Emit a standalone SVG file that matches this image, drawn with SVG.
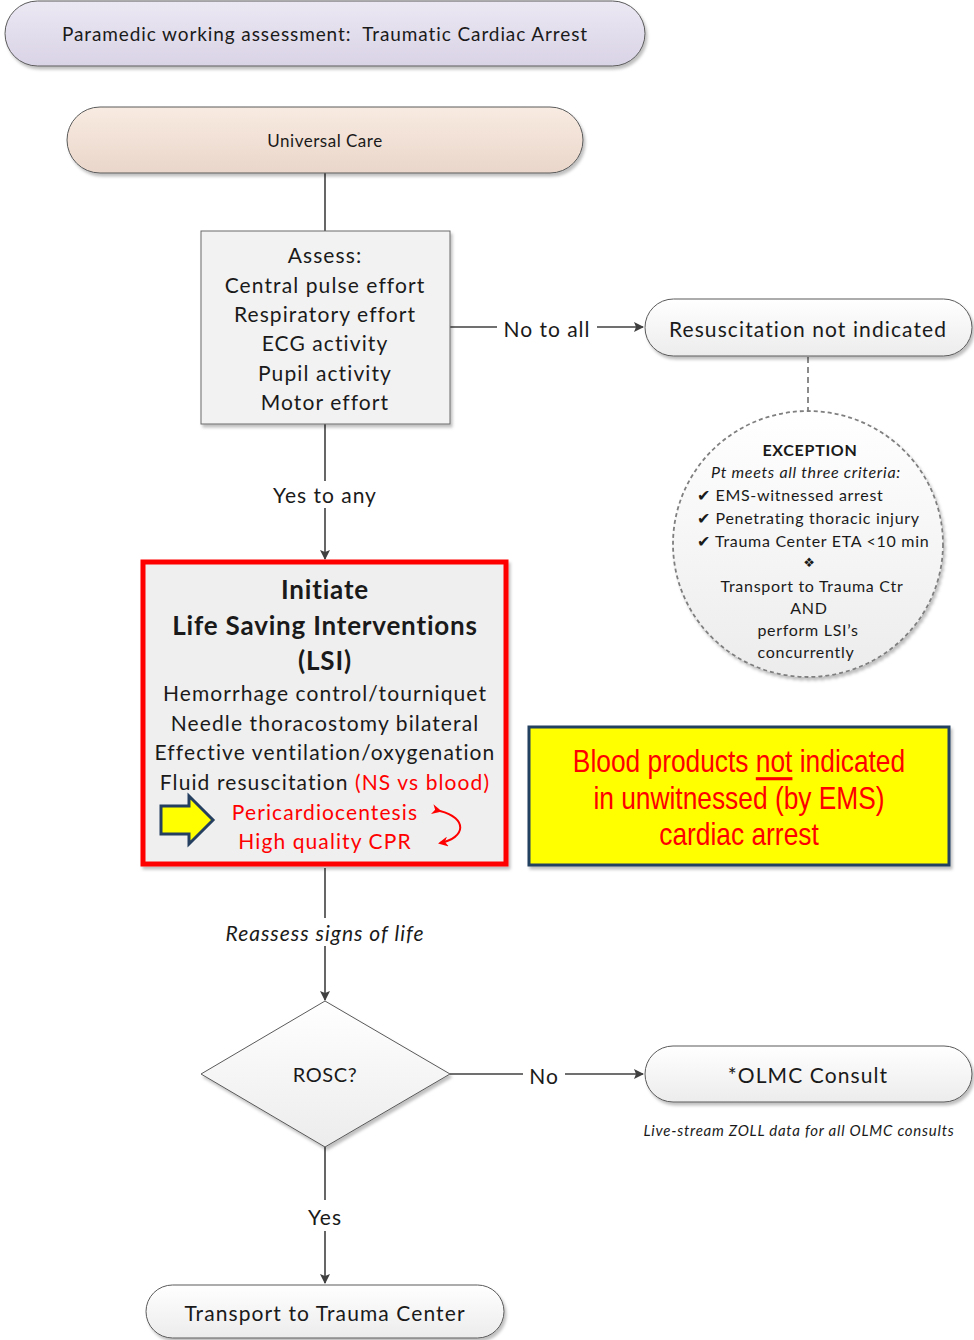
<svg xmlns="http://www.w3.org/2000/svg" width="974" height="1340" viewBox="0 0 974 1340">
<defs>
<linearGradient id="gLav" x1="0" y1="0" x2="0" y2="1"><stop offset="0" stop-color="#ece8f3"/><stop offset="1" stop-color="#d9d3e6"/></linearGradient>
<linearGradient id="gPeach" x1="0" y1="0" x2="0" y2="1"><stop offset="0" stop-color="#f8ebe1"/><stop offset="1" stop-color="#ead6ca"/></linearGradient>
<linearGradient id="gWhite" x1="0" y1="0" x2="0" y2="1"><stop offset="0" stop-color="#ffffff"/><stop offset="1" stop-color="#ececec"/></linearGradient>
<filter id="sh" x="-5%" y="-5%" width="112%" height="125%"><feDropShadow dx="2" dy="3" stdDeviation="1.5" flood-color="#000" flood-opacity="0.25"/></filter>
<marker id="ah" markerWidth="10" markerHeight="10" refX="9" refY="5" orient="auto" markerUnits="userSpaceOnUse"><path d="M0,0 L10,5 L0,10 L2,5 z" fill="#404040"/></marker>
<marker id="ahr" markerWidth="10" markerHeight="10" refX="8" refY="5" orient="auto" markerUnits="userSpaceOnUse"><path d="M0,0 L10,5 L0,10 L3,5 z" fill="#ff0000"/></marker>
<style>
text{font-family:Lato,"Liberation Sans",sans-serif;fill:#1a1a1a;text-anchor:middle;dominant-baseline:central}
.pill{stroke:#5a5a5a;stroke-width:1}
.conn{stroke:#404040;stroke-width:1.6;fill:none}
.lbl{font-size:21px;letter-spacing:1px}
.t21{font-size:21px;letter-spacing:1.1px}
.t16{font-size:16px;letter-spacing:0.7px}
.b26{font-size:26px;font-weight:bold;letter-spacing:0.8px}
.red{fill:#ff0000}
.yel{font-family:"Liberation Sans",sans-serif;font-size:31px;fill:#ff0000}
</style>
</defs>

<g id="conn">
<line class="conn" x1="325" y1="173" x2="325" y2="231"/>
<line class="conn" x1="450" y1="327" x2="497" y2="327"/>
<line class="conn" x1="597" y1="327" x2="643" y2="327" marker-end="url(#ah)"/>
<line x1="808" y1="357" x2="808" y2="411" stroke="#7f7f7f" stroke-width="1.8" stroke-dasharray="6,4"/>
<line class="conn" x1="325" y1="424" x2="325" y2="481"/>
<line class="conn" x1="325" y1="508" x2="325" y2="559" marker-end="url(#ah)"/>
<line class="conn" x1="325" y1="868" x2="325" y2="918"/>
<line class="conn" x1="325" y1="946" x2="325" y2="1000" marker-end="url(#ah)"/>
<line class="conn" x1="450" y1="1074" x2="523" y2="1074"/>
<line class="conn" x1="565" y1="1074" x2="643" y2="1074" marker-end="url(#ah)"/>
<line class="conn" x1="325" y1="1147" x2="325" y2="1200"/>
<line class="conn" x1="325" y1="1231" x2="325" y2="1283" marker-end="url(#ah)"/>
<text class="lbl" x="547" y="328">No to all</text>
<text class="lbl" x="325" y="494">Yes to any</text>
<text class="lbl" x="325" y="932" font-style="italic">Reassess signs of life</text>
<text class="lbl" x="544" y="1075">No</text>
<text class="lbl" x="325" y="1216">Yes</text>
</g>

<g id="title">
<rect class="pill" x="5" y="1" width="640" height="65" rx="32.5" fill="url(#gLav)" filter="url(#sh)"/>
<text x="325" y="33" font-size="19" letter-spacing="0.9" style="white-space:pre">Paramedic working assessment:  Traumatic Cardiac Arrest</text>
</g>

<g id="universal">
<rect class="pill" x="67" y="107" width="516" height="66" rx="33" fill="url(#gPeach)" filter="url(#sh)"/>
<text x="325" y="140" font-size="17" letter-spacing="0.5">Universal Care</text>
</g>

<g id="assess">
<rect x="201" y="231" width="249" height="193" fill="#f2f2f2" stroke="#6a6a6a" stroke-width="1" filter="url(#sh)"/>
<text class="t21" x="325" y="254">Assess:</text>
<text class="t21" x="325" y="284">Central pulse effort</text>
<text class="t21" x="325" y="313">Respiratory effort</text>
<text class="t21" x="325" y="342">ECG activity</text>
<text class="t21" x="325" y="372">Pupil activity</text>
<text class="t21" x="325" y="401">Motor effort</text>
</g>

<g id="resus">
<rect class="pill" x="645" y="299" width="327" height="57" rx="28.5" fill="url(#gWhite)" filter="url(#sh)"/>
<text class="t21" x="808" y="328">Resuscitation not indicated</text>
</g>

<g id="exception">
<ellipse cx="808" cy="544" rx="135" ry="133" fill="url(#gWhite)" stroke="#7f7f7f" stroke-width="1.8" stroke-dasharray="4,3" filter="url(#sh)"/>
<text class="t16" x="810" y="449" font-weight="bold">EXCEPTION</text>
<text class="t16" x="806" y="471" font-style="italic">Pt meets all three criteria:</text>
<text class="t16" x="697" y="494" style="text-anchor:start">✔ EMS-witnessed arrest</text>
<text class="t16" x="697" y="517" style="text-anchor:start">✔ Penetrating thoracic injury</text>
<text class="t16" x="697" y="540" style="text-anchor:start">✔ Trauma Center ETA &lt;10 min</text>
<text x="809" y="562" font-size="13" style="font-family:'DejaVu Sans',sans-serif">❖</text>
<text class="t16" x="812" y="585">Transport to Trauma Ctr</text>
<text class="t16" x="809" y="607">AND</text>
<text class="t16" x="808" y="629">perform LSI’s</text>
<text class="t16" x="806" y="651">concurrently</text>
</g>

<g id="lsi">
<rect x="143" y="562" width="363" height="302" fill="#efefef" stroke="#ff0000" stroke-width="5" filter="url(#sh)"/>
<text class="b26" x="325" y="589">Initiate</text>
<text class="b26" x="325" y="625">Life Saving Interventions</text>
<text class="b26" x="325" y="660">(LSI)</text>
<text class="t21" x="325" y="692">Hemorrhage control/tourniquet</text>
<text class="t21" x="325" y="722">Needle thoracostomy bilateral</text>
<text class="t21" x="325" y="751">Effective ventilation/oxygenation</text>
<text class="t21" x="325" y="781">Fluid resuscitation <tspan class="red">(NS vs blood)</tspan></text>
<text class="t21 red" x="325" y="811">Pericardiocentesis</text>
<text class="t21 red" x="325" y="840">High quality CPR</text>
<path d="M161,806 H189 V796 L213,820 L189,844 V834 H161 Z" fill="#ffff00" stroke="#243f60" stroke-width="3" stroke-linejoin="miter"/>
<path d="M440,811 C468,818 466,838 440,843" fill="none" stroke="#ff0000" stroke-width="2" marker-start="url(#ahr)" marker-end="url(#ahr)"/>
</g>

<g id="blood">
<rect x="529" y="727" width="420" height="138" fill="#ffff00" stroke="#243f60" stroke-width="3" filter="url(#sh)"/>
<g transform="translate(739,0) scale(0.85,1)">
<text class="yel" x="0" y="761">Blood products <tspan text-decoration="underline">not</tspan> indicated</text>
<text class="yel" x="0" y="798">in unwitnessed (by EMS)</text>
<text class="yel" x="0" y="834">cardiac arrest</text>
</g>
</g>

<g id="rosc">
<polygon points="325,1001 450,1074 325,1147 201,1074" fill="url(#gWhite)" stroke="#5a5a5a" stroke-width="1" filter="url(#sh)"/>
<text x="325" y="1074" font-size="20" letter-spacing="0.6">ROSC?</text>
</g>

<g id="olmc">
<rect class="pill" x="645" y="1046" width="327" height="56" rx="28" fill="url(#gWhite)" filter="url(#sh)"/>
<text class="t21" x="808" y="1074">*OLMC Consult</text>
<text x="799" y="1130" font-size="15" font-style="italic" letter-spacing="0.75">Live-stream ZOLL data for all OLMC consults</text>
</g>

<g id="transport">
<rect class="pill" x="146" y="1285" width="358" height="53" rx="26.5" fill="url(#gWhite)" filter="url(#sh)"/>
<text class="t21" x="325" y="1312">Transport to Trauma Center</text>
</g>
</svg>
